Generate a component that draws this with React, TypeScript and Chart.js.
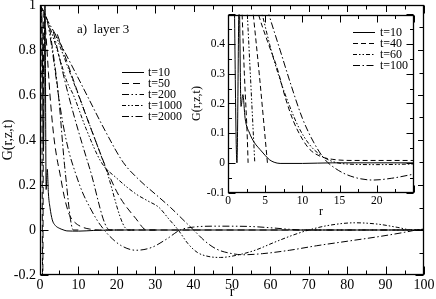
import React, { useEffect, useRef } from 'react';
import { Chart, registerables } from 'chart.js';
Chart.register(...registerables);

type Pt = [number, number];

// ---------- main panel data ----------
const mainLabels = ['t=10', 't=50', 't=200', 't=1000', 't=2000'];
const mainT10: Pt[] = [[0, 1], [0.5, 0.95], [0.9, 0.35], [1.3, 1.02], [1.6, 0.18], [1.9, 0.27], [2.2, 0.16], [2.6, 0.1], [3.2, 0.045], [4, 0.02], [5, 0.008], [6, 0.001], [7, -0.004], [10, -0.005], [14, -0.002], [20, 0], [100, 0]];
const mainT50: Pt[] = [[0, 1], [0.4, 0.95], [0.7, -0.25], [1.0, 0.97], [1.5, 0.88], [2.2, 0.7], [2.6, 0.6], [3.5, 0.43], [4.3, 0.33], [5.2, 0.25], [6.3, 0.15], [7.6, 0.07], [9, 0.035], [11, 0.013], [13, 0.004], [15.5, 0], [100, 0]];
const mainT200: Pt[] = [[0, 1], [1, 0.97], [2, 0.92], [3, 0.82], [4, 0.7], [4.8, 0.6], [6, 0.47], [7.5, 0.35], [9.1, 0.26], [11, 0.17], [13, 0.1], [15, 0.04], [16.5, 0.005], [18, -0.025], [21, -0.068], [25, -0.09], [29, -0.078], [33, -0.04], [36.5, 0], [40, 0.013], [46, 0.017], [54, 0.016], [60, 0.01], [65, 0.003], [68, 0], [100, 0]];
const mainT1000: Pt[] = [[0, 1], [1, 0.97], [2, 0.93], [3, 0.88], [5, 0.77], [7, 0.66], [8.7, 0.6], [12, 0.45], [16, 0.3], [20, 0.23], [25, 0.16], [28, 0.13], [31, 0.1], [33.5, 0.05], [36, 0], [38.5, -0.06], [41, -0.1], [44, -0.118], [47, -0.122], [51, -0.113], [56, -0.09], [61, -0.055], [66, -0.022], [70, 0], [75, 0.02], [82, 0.032], [88, 0.026], [93, 0.012], [97, 0], [100, 0.003]];
const mainT2000: Pt[] = [[0, 1], [2, 0.93], [4, 0.87], [8, 0.74], [12.2, 0.6], [17, 0.44], [21.7, 0.3], [26, 0.22], [30, 0.16], [34, 0.1], [37, 0.05], [40, 0], [43, -0.05], [46, -0.085], [50, -0.105], [53, -0.11], [58, -0.105], [65, -0.09], [72, -0.07], [80, -0.05], [88, -0.03], [95, -0.01], [98, 0], [100, 0.004]];
// extra front lines seen in the picture (no legend entry)
const mainFrontA: Pt[] = [[2.5, 0.9], [4.8, 0.6], [6.5, 0.27], [8.7, 0], [10, 0]];
const mainFrontB: Pt[] = [[3.5, 0.88], [7.4, 0.6], [13, 0.27], [18.2, 0], [20, 0]];
const mainFrontC: Pt[] = [[4, 0.87], [10, 0.6], [17, 0.28], [23, 0], [25, 0]];
const mainFrontD: Pt[] = [[4.5, 0.87], [13.5, 0.44], [20, 0.17], [25, 0.05], [27.8, 0], [30, 0]];
const mainXTicks = [0, 10, 20, 30, 40, 50, 60, 70, 80, 90, 100];
const mainYTicks = [-0.2, 0, 0.2, 0.4, 0.6, 0.8, 1];

// ---------- inset data ----------
const insetLabels = ['t=10', 't=40', 't=60', 't=100'];
const insetT10: Pt[] = [[0, 1], [0.7, 0.8], [1.2, 0.0], [1.5, 0.55], [1.75, 0.19], [2.0, 0.23], [2.3, 0.15], [2.9, 0.1], [3.5, 0.07], [4.3, 0.045], [5, 0.025], [5.6, 0.01], [6.2, 0.002], [7, -0.002], [10, -0.002], [14, 0], [25, 0]];
const insetT40: Pt[] = [[0, 1], [1.5, 0.8], [3, 0.6], [4.1, 0.5], [5.3, 0.41], [6.6, 0.32], [7.7, 0.22], [8.8, 0.14], [10, 0.08], [11, 0.045], [12.4, 0.022], [14, 0.012], [17, 0.008], [25, 0.008]];
const insetT60: Pt[] = [[0, 1], [2, 0.75], [4.6, 0.5], [5.8, 0.38], [7, 0.28], [8.3, 0.19], [9.5, 0.12], [11, 0.06], [12.5, 0.025], [14, 0.005], [16, -0.004], [20, -0.006], [25, -0.004]];
const insetT100: Pt[] = [[0, 1], [3, 0.72], [5.5, 0.5], [7, 0.38], [8.5, 0.26], [10, 0.15], [11.5, 0.07], [13, 0.012], [14.5, -0.02], [16.5, -0.045], [19.5, -0.058], [22, -0.052], [25, -0.038]];
const insetFrontA: Pt[] = [[1.9, 0.5], [2.2, 0.3], [2.6, 0.08], [2.7, 0]];
const insetFrontB: Pt[] = [[2.6, 0.5], [3.0, 0.3], [3.5, 0.05], [3.6, 0]];
const insetFrontC: Pt[] = [[3.4, 0.5], [4.2, 0.3], [5.3, 0]];
const insetXTicks = [0, 5, 10, 15, 20];
const insetYTicks = [-0.1, 0, 0.1, 0.2, 0.3, 0.4];

const SERIF = "'Liberation Serif', 'DejaVu Serif', serif";

const mainDash = { solid: [] as number[], d50: [7, 4], d200: [7, 2.5, 1.5, 2.5, 1.5, 2.5], d1000: [4, 2, 1.5, 2, 1.5, 2], d2000: [7, 2.5, 1.5, 2.5] };
const insetDash = { solid: [] as number[], d40: [5, 3], d60: [4, 2, 1.5, 2, 1.5, 2], d100: [7, 2.5, 1.5, 2.5] };

function ds(label: string, pts: Pt[], dash: number[]) {
  return {
    label,
    data: pts.map(([x, y]) => ({ x, y })),
    borderColor: '#000',
    borderWidth: 1,
    borderDash: dash,
    pointRadius: 0,
    showLine: true,
    fill: false,
    cubicInterpolationMode: 'monotone' as const,
  };
}

function fmt(v: number) {
  return String(Math.round(v * 100) / 100);
}

function framePlugin(c: { xMajor: number; xMinor: number; yMajor: number; yMinor: number; major: number; minor: number }) {
  return {
    id: 'frameTicks',
    afterDatasetsDraw(chart: any) {
      const { ctx, chartArea: a, scales } = chart;
      const xs = scales.x, ys = scales.y;
      const L = Math.round(a.left) + 0.5, R = Math.round(a.right) - 0.5;
      const T = Math.round(a.top) + 0.5, B = Math.round(a.bottom) - 0.5;
      ctx.save();
      ctx.strokeStyle = '#000';
      ctx.lineWidth = 1;
      ctx.setLineDash([]);
      ctx.beginPath();
      const nx = Math.round((xs.max - xs.min) / c.xMinor);
      const rx = Math.round(c.xMajor / c.xMinor);
      for (let i = 0; i <= nx; i++) {
        const v = xs.min + i * c.xMinor;
        const px = Math.round(xs.getPixelForValue(v)) + 0.5;
        const len = i % rx === 0 ? c.major : c.minor;
        ctx.moveTo(px, B); ctx.lineTo(px, B - len);
        ctx.moveTo(px, T); ctx.lineTo(px, T + len);
      }
      const ny = Math.round((ys.max - ys.min) / c.yMinor);
      const ry = Math.round(c.yMajor / c.yMinor);
      for (let i = 0; i <= ny; i++) {
        const v = ys.min + i * c.yMinor;
        const py = Math.round(ys.getPixelForValue(v)) + 0.5;
        const len = i % ry === 0 ? c.major : c.minor;
        ctx.moveTo(L, py); ctx.lineTo(L + len, py);
        ctx.moveTo(R, py); ctx.lineTo(R - len, py);
      }
      ctx.stroke();
      ctx.lineWidth = 1.3;
      ctx.strokeRect(L, T, R - L, B - T);
      ctx.restore();
    },
  };
}

function legendPlugin(c: { count: number; x0: number; x1: number; tx: number; y0: number; dy: number; font: string; note?: { text: string; x: number; y: number; font: string } }) {
  return {
    id: 'lineLegend',
    afterDraw(chart: any) {
      const { ctx } = chart;
      ctx.save();
      ctx.fillStyle = '#000';
      ctx.strokeStyle = '#000';
      ctx.lineWidth = 1;
      ctx.textBaseline = 'middle';
      ctx.textAlign = 'left';
      ctx.font = c.font;
      for (let i = 0; i < c.count; i++) {
        const d = chart.data.datasets[i];
        const y = Math.round(c.y0 + i * c.dy) + 0.5;
        ctx.setLineDash(d.borderDash || []);
        ctx.beginPath();
        ctx.moveTo(c.x0, y);
        ctx.lineTo(c.x1, y);
        ctx.stroke();
        ctx.fillText(d.label, c.tx, y);
      }
      if (c.note) {
        ctx.font = c.note.font;
        ctx.fillText(c.note.text, c.note.x, c.note.y);
      }
      ctx.restore();
    },
  };
}

function whiteBg() {
  return {
    id: 'whiteBg',
    beforeDraw(chart: any) {
      const { ctx, width, height } = chart;
      ctx.save();
      ctx.fillStyle = '#fff';
      ctx.fillRect(0, 0, width, height);
      ctx.restore();
    },
  };
}

function axisCfg(opts: { min: number; max: number; ticks: number[]; fontSize: number; pad: number; title: string; titleSize: number; titlePad: any; size: number; horizontal: boolean }) {
  return {
    type: 'linear' as const,
    min: opts.min,
    max: opts.max,
    grid: { display: false, drawTicks: false },
    border: { display: false },
    afterBuildTicks: (s: any) => {
      s.ticks = opts.ticks.map((v) => ({ value: v }));
    },
    afterFit: (s: any) => {
      if (opts.horizontal) s.height = opts.size; else s.width = opts.size;
      s.paddingLeft = 0; s.paddingRight = 0; s.paddingTop = 0; s.paddingBottom = 0;
    },
    ticks: {
      autoSkip: false,
      maxRotation: 0,
      padding: opts.pad,
      color: '#000',
      font: { family: SERIF, size: opts.fontSize },
      callback: (v: any) => fmt(Number(v)),
    },
    title: {
      display: true,
      text: opts.title,
      color: '#000',
      font: { family: SERIF, size: opts.titleSize, lineHeight: 1 },
      padding: opts.titlePad,
    },
  };
}

export default function App() {
  const mainRef = useRef<HTMLCanvasElement>(null);
  const insetRef = useRef<HTMLCanvasElement>(null);

  useEffect(() => {
    const main = new Chart(mainRef.current!, {
      type: 'scatter',
      data: {
        datasets: [
          ds(mainLabels[0], mainT10, mainDash.solid),
          ds(mainLabels[1], mainT50, mainDash.d50),
          ds(mainLabels[2], mainT200, mainDash.d200),
          ds(mainLabels[3], mainT1000, mainDash.d1000),
          ds(mainLabels[4], mainT2000, mainDash.d2000),
          ds('', mainFrontA, mainDash.d2000),
          ds('', mainFrontB, mainDash.d2000),
          ds('', mainFrontC, mainDash.d1000),
          ds('', mainFrontD, mainDash.d50),
        ] as any,
      },
      options: {
        responsive: false,
        animation: false,
        events: [],
        layout: { padding: { top: 5, right: 12, left: 0, bottom: 0 } },
        plugins: { legend: { display: false }, tooltip: { enabled: false } },
        scales: {
          x: axisCfg({ min: 0, max: 100, ticks: mainXTicks, fontSize: 14, pad: 2, title: 'r', titleSize: 14, titlePad: { top: 0, bottom: 0 }, size: 24, horizontal: true }),
          y: axisCfg({ min: -0.2, max: 1, ticks: mainYTicks, fontSize: 14, pad: 4, title: 'G(r,z,t)', titleSize: 14, titlePad: { top: 1, bottom: 0 }, size: 40, horizontal: false }),
        },
      } as any,
      plugins: [
        framePlugin({ xMajor: 10, xMinor: 5, yMajor: 0.2, yMinor: 0.1, major: 8, minor: 4 }),
        legendPlugin({ count: 5, x0: 122, x1: 144, tx: 148, y0: 71.5, dy: 11.1, font: `12px ${SERIF}`, note: { text: 'a)  layer 3', x: 77, y: 30, font: `13px ${SERIF}` } }),
      ],
    });

    const inset = new Chart(insetRef.current!, {
      type: 'scatter',
      data: {
        datasets: [
          ds(insetLabels[0], insetT10, insetDash.solid),
          ds(insetLabels[1], insetT40, insetDash.d40),
          ds(insetLabels[2], insetT60, insetDash.d60),
          ds(insetLabels[3], insetT100, insetDash.d100),
          ds('', insetFrontA, insetDash.d40),
          ds('', insetFrontB, insetDash.d60),
          ds('', insetFrontC, insetDash.d40),
        ] as any,
      },
      options: {
        responsive: false,
        animation: false,
        events: [],
        layout: { padding: { top: 2.5, right: 4, left: 0, bottom: 0 } },
        plugins: { legend: { display: false }, tooltip: { enabled: false } },
        scales: {
          x: axisCfg({ min: 0, max: 25, ticks: insetXTicks, fontSize: 11.5, pad: 2, title: 'r', titleSize: 12, titlePad: { top: 0, bottom: 1 }, size: 26.5, horizontal: true }),
          y: axisCfg({ min: -0.1, max: 0.5, ticks: insetYTicks, fontSize: 11.5, pad: 3, title: 'G(r,z,t)', titleSize: 12, titlePad: { top: 1, bottom: 0 }, size: 38, horizontal: false }),
        },
      } as any,
      plugins: [
        whiteBg(),
        framePlugin({ xMajor: 5, xMinor: 2.5, yMajor: 0.1, yMinor: 0.05, major: 7, minor: 3.5 }),
        legendPlugin({ count: 4, x0: 163, x1: 185, tx: 190, y0: 19.7, dy: 11, font: `12px ${SERIF}` }),
      ],
    });

    return () => {
      main.destroy();
      inset.destroy();
    };
  }, []);

  return (
    <div style={{ position: 'fixed', left: 0, top: 0, width: 436, height: 299, background: '#fff' }}>
      <canvas ref={mainRef} width={436} height={299} style={{ position: 'absolute', left: 0, top: 0, width: 436, height: 299 }} />
      <canvas ref={insetRef} width={228} height={207} style={{ position: 'absolute', left: 190, top: 12, width: 228, height: 207 }} />
    </div>
  );
}
